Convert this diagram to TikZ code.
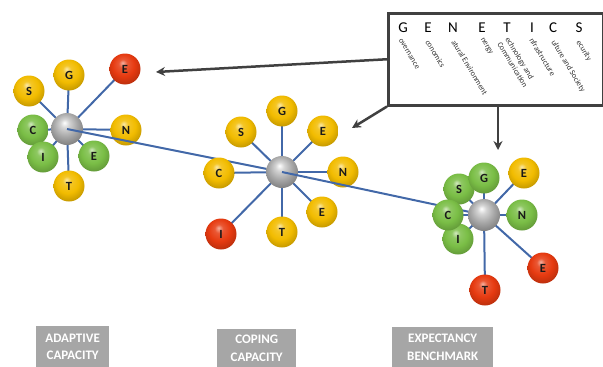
\documentclass[tikz,border=0pt]{standalone}
\usepackage{fontspec}
\setmainfont{Carlito}
\usetikzlibrary{arrows.meta}
\definecolor{ybcol}{RGB}{242,188,0}
\definecolor{gbcol}{RGB}{122,190,70}
\definecolor{rbcol}{RGB}{230,58,16}
\definecolor{cbcol}{RGB}{168,168,168}
\definecolor{spokecol}{RGB}{66,104,168}
\definecolor{arrcol}{RGB}{64,64,64}
\definecolor{labgray}{RGB}{166,166,166}
\pgfdeclareradialshading{yball}{\pgfpoint{-4bp}{10bp}}{color(0bp)=(ybcol!35!white); color(7bp)=(ybcol!85!white); color(18bp)=(ybcol); color(30bp)=(ybcol!80!black); color(50bp)=(ybcol!60!black)}
\pgfdeclareradialshading{gball}{\pgfpoint{-4bp}{10bp}}{color(0bp)=(gbcol!35!white); color(7bp)=(gbcol!85!white); color(18bp)=(gbcol); color(30bp)=(gbcol!80!black); color(50bp)=(gbcol!60!black)}
\pgfdeclareradialshading{rball}{\pgfpoint{-4bp}{10bp}}{color(0bp)=(rbcol!40!white); color(7bp)=(rbcol!85!white); color(18bp)=(rbcol); color(30bp)=(rbcol!80!black); color(50bp)=(rbcol!60!black)}
\pgfdeclareradialshading{cball}{\pgfpoint{-4bp}{10bp}}{color(0bp)=(white); color(7bp)=(cbcol!50!white); color(18bp)=(cbcol); color(30bp)=(cbcol!75!black); color(50bp)=(cbcol!55!black)}
\begin{document}
\begin{tikzpicture}[x=1pt,y=-1pt,
  ballnode/.style={circle,minimum size=31pt,inner sep=0pt,text=black!90,font=\bfseries\fontsize{12.5}{12.5}\selectfont},
  yb/.style={ballnode,shading=yball},
  gb/.style={ballnode,shading=gball},
  rb/.style={ballnode,shading=rball},
  cb/.style={circle,minimum size=32pt,inner sep=0pt,shading=cball},
  spoke/.style={draw=spokecol,line width=2pt},
  bigarrow/.style={draw=arrcol,line width=2.5pt,-{Stealth[length=9pt,width=9pt]}},
  labbox/.style={fill=labgray,text=white,inner sep=0pt,anchor=north west,align=center,font=\bfseries\fontsize{13}{17.5}\selectfont},
  bigletter/.style={inner sep=0pt,font=\fontsize{15}{15}\selectfont,text=black},
  small/.style={inner sep=0pt,anchor=north west,rotate=-59,align=left,text=black!80,font=\fontsize{8}{9.5}\selectfont},
]
\useasboundingbox (0,0) rectangle (603,367);

% ---------- cluster 1 : adaptive capacity ----------
\coordinate (a0) at (67,129);
\coordinate (aS) at (29,91);
\coordinate (aG) at (69,75);
\coordinate (aE) at (125,69);
\coordinate (aC) at (33,130);
\coordinate (aN) at (126,130);
\coordinate (aI) at (43,157);
\coordinate (aE2) at (94,156);
\coordinate (aT) at (69,186);
\foreach \p in {aS,aG,aE,aC,aN,aI,aE2,aT} \draw[spoke] (a0) -- (\p);
\node[yb] (nS1) at (aS) {S};
\node[yb] (nG1) at (aG) {G};
\node[rb] (nE1) at (aE) {E};
\node[gb] (nC1) at (aC) {C};
\node[gb] (nI1) at (aI) {I};
\node[gb] (nEe1) at (aE2) {E};
\node[yb] (nN1) at (aN) {N};
\node[yb] (nT1) at (aT) {T};
\node[cb] (c1) at (a0) {};

% ---------- cluster 2 : coping capacity ----------
\coordinate (b0) at (282,172);
\coordinate (bG) at (282,111);
\coordinate (bS) at (241,132);
\coordinate (bE) at (323,131);
\coordinate (bC) at (219,173);
\coordinate (bN) at (343,172);
\coordinate (bE2) at (322,212);
\coordinate (bI) at (221,234);
\coordinate (bT) at (282,232);
\foreach \p in {bG,bS,bE,bC,bN,bE2,bI,bT} \draw[spoke] (b0) -- (\p);
\draw[spoke] (c1.center) -- (b0);
\node[yb] (nG2) at (bG) {G};
\node[yb] (nS2) at (bS) {S};
\node[yb] (nE2) at (bE) {E};
\node[yb] (nC2) at (bC) {C};
\node[yb] (nN2) at (bN) {N};
\node[yb] (nEe2) at (bE2) {E};
\node[rb] (nI2) at (bI) {I};
\node[yb] (nT2) at (bT) {T};
\node[cb] (c2) at (b0) {};

% ---------- cluster 3 : expectancy benchmark ----------
\coordinate (d0) at (484,215);
\coordinate (dG) at (484,178);
\coordinate (dS) at (459,189);
\coordinate (dE) at (524,173);
\coordinate (dC) at (448,215);
\coordinate (dN) at (522,215);
\coordinate (dI) at (458,239);
\coordinate (dE2) at (543,268);
\coordinate (dT) at (485,290);
\foreach \p in {dG,dS,dE,dC,dN,dI,dE2,dT} \draw[spoke] (d0) -- (\p);
\draw[spoke] (c2.center) -- (d0);
\node[gb] (nS3) at (dS) {S};
\node[gb] (nI3) at (dI) {I};
\node[gb] (nG3) at (dG) {G};
\node[gb] (nC3) at (dC) {C};
\node[yb] (nE3) at (dE) {E};
\node[gb] (nN3) at (dN) {N};
\node[rb] (nEe3) at (dE2) {E};
\node[rb] (nT3) at (dT) {T};
\node[cb] (c3) at (d0) {};

% ---------- GENETICS box ----------
\node[draw=arrcol,line width=2.5pt,minimum width=215pt,minimum height=92pt,inner sep=0pt,anchor=north west] (gbox) at (387,12) {};
\node[bigletter] (L1) at (403,28) {G};
\node[bigletter] (L2) at (428,28) {E};
\node[bigletter] (L3) at (453,28) {N};
\node[bigletter] (L4) at (482,28) {E};
\node[bigletter] (L5) at (507,28) {T};
\node[bigletter] (L6) at (532,28) {I};
\node[bigletter] (L7) at (553,28) {C};
\node[bigletter] (L8) at (579,28) {S};
\node[small] (t1) at (402,38) {overnance};
\node[small] (t2) at (430,39) {conomics};
\node[small] (t3) at (456,39) {atural Environment};
\node[small] (t4) at (484,37) {nergy};
\node[small] (t5) at (510,36) {echnology and\\Communication};
\node[small] (t6) at (534,37) {nfrastructure};
\node[small] (t7) at (556,39) {ulture and Society};
\node[small] (t8) at (581,39) {ecurity};

% ---------- arrows ----------
\coordinate (arr1) at (156,72);
\coordinate (arr2) at (352,128);
\coordinate (arr3s) at (498,104);
\coordinate (arr3) at (498,150);
\draw[bigarrow] (gbox.west) -- (arr1);
\draw[bigarrow] (gbox.south west) -- (arr2);
\draw[bigarrow] (arr3s) -- (arr3);

% ---------- labels ----------
\node[labbox,minimum width=73pt,minimum height=41pt] (lab1) at (36,326) {ADAPTIVE\\CAPACITY};
\node[labbox,minimum width=79pt,minimum height=38pt] (lab2) at (217,329) {COPING\\CAPACITY};
\node[labbox,minimum width=101pt,minimum height=40pt] (lab3) at (392,327) {EXPECTANCY\\BENCHMARK};
\end{tikzpicture}
\end{document}
